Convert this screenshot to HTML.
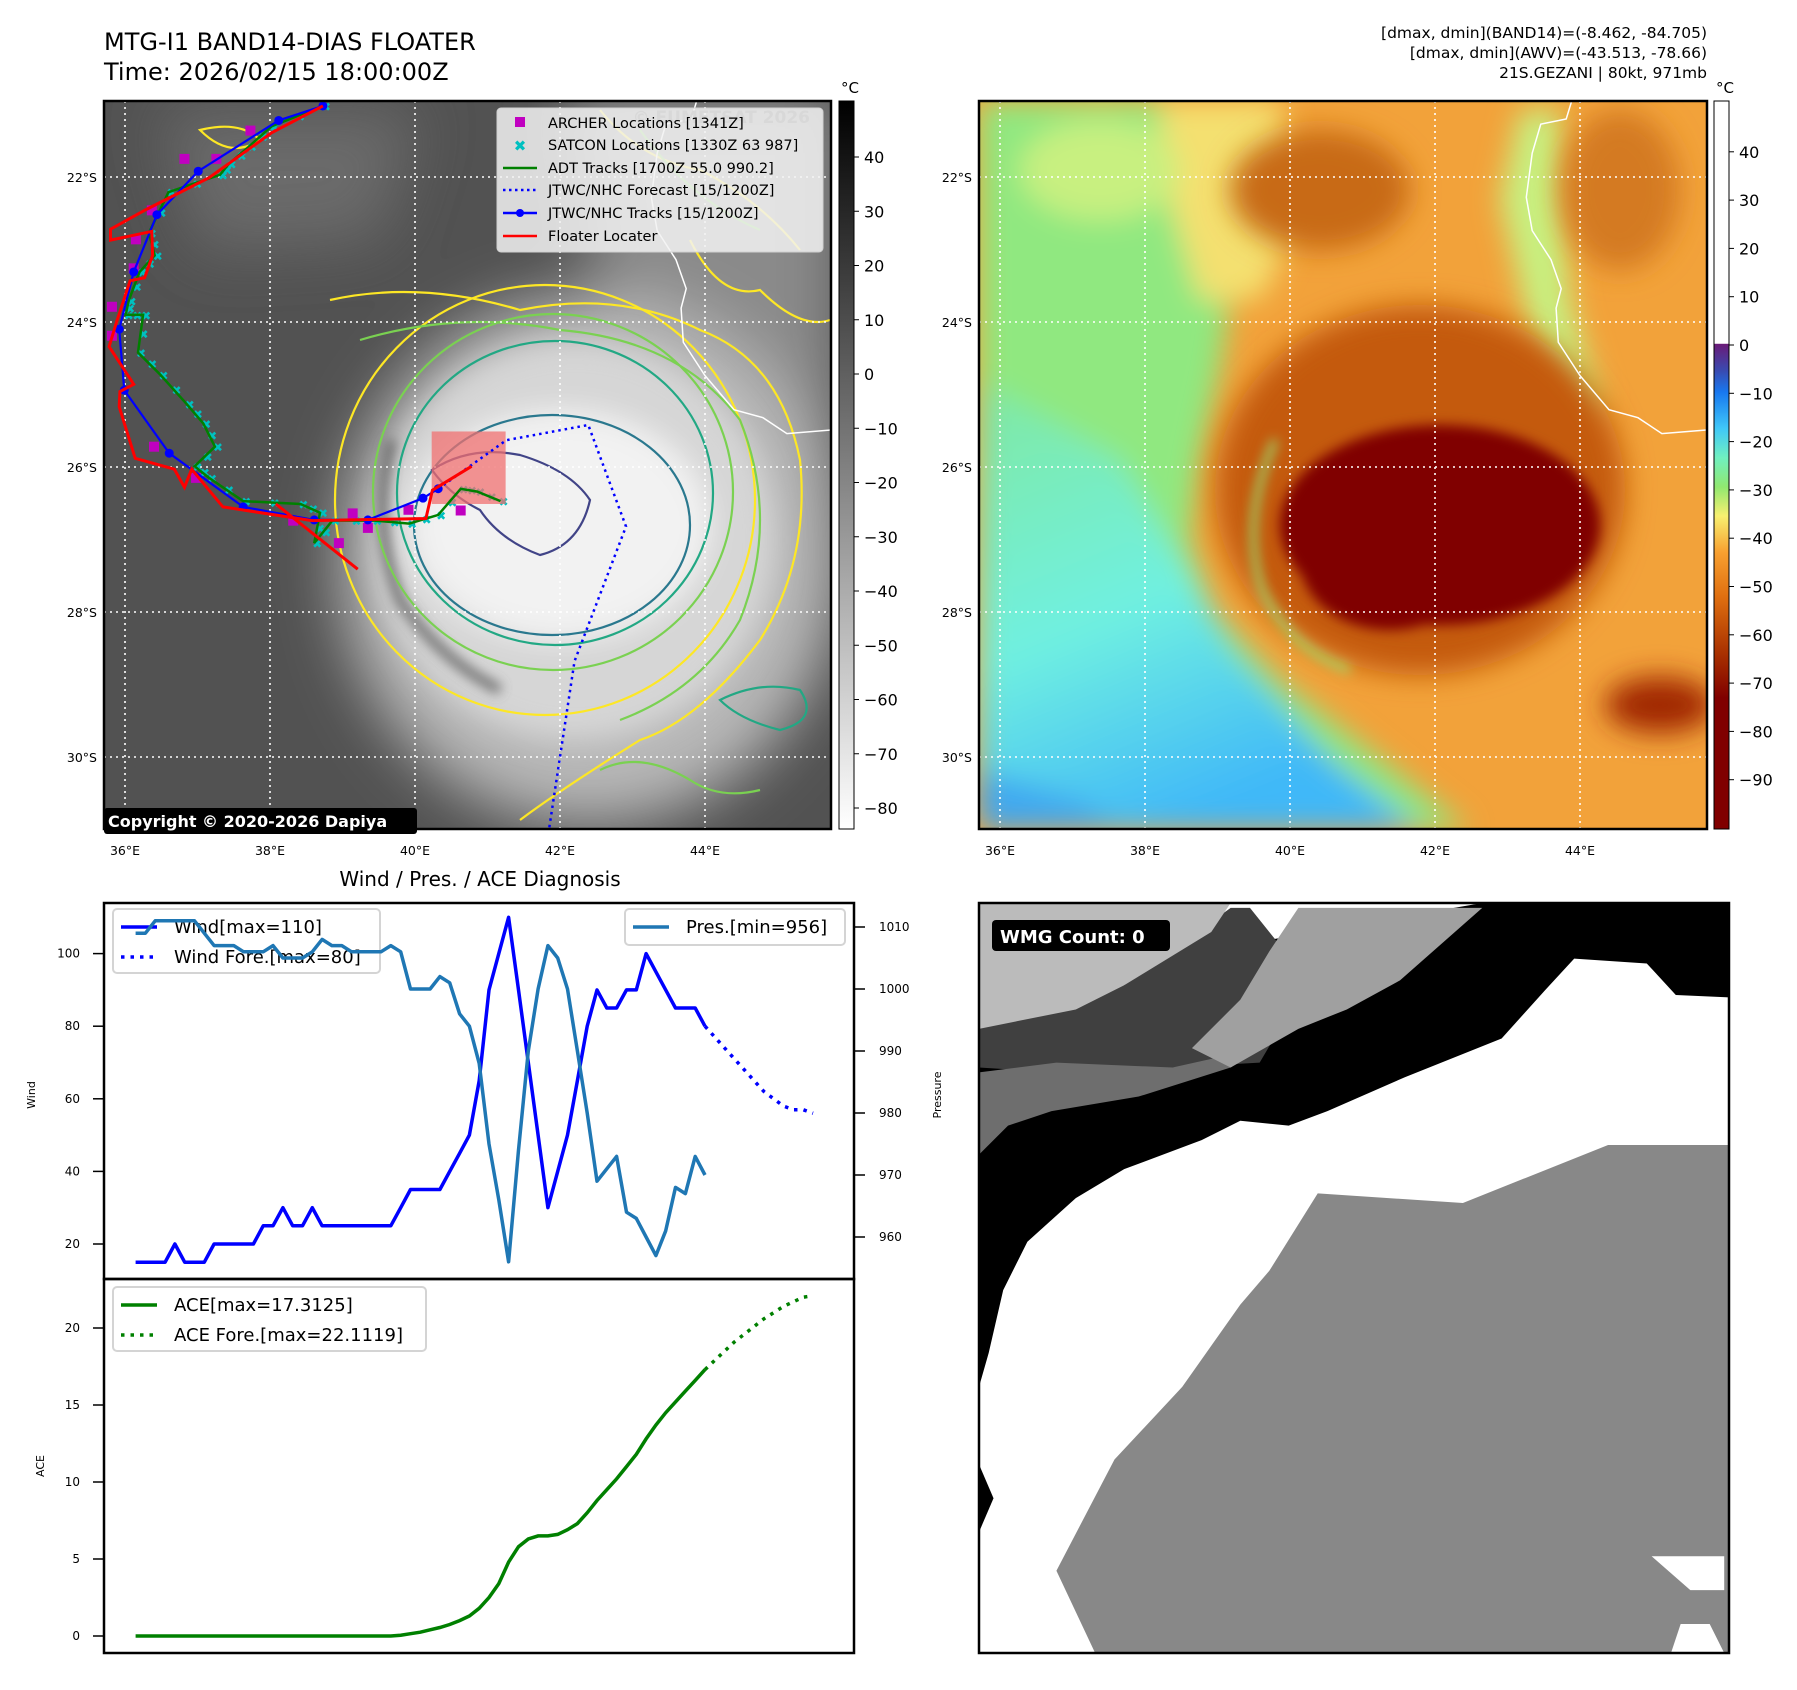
<!DOCTYPE html>
<html><head><meta charset="utf-8">
<style>
html,body{margin:0;padding:0;background:#fff;}
svg{display:block;font-family:"DejaVu Sans","Liberation Sans",sans-serif;}
</style></head>
<body>
<svg id="fig" width="1797" height="1690" viewBox="0 0 1797 1690" xmlns="http://www.w3.org/2000/svg">
<defs>
 <filter id="b6" x="-30%" y="-30%" width="160%" height="160%"><feGaussianBlur stdDeviation="6"/></filter>
 <filter id="b14" x="-30%" y="-30%" width="160%" height="160%"><feGaussianBlur stdDeviation="14"/></filter>
 <filter id="b30" x="-50%" y="-50%" width="200%" height="200%"><feGaussianBlur stdDeviation="30"/></filter>
 <clipPath id="clipL"><rect x="104" y="101" width="727" height="728"/></clipPath>
 <clipPath id="clipR"><rect x="979" y="101" width="728" height="728"/></clipPath>
 <clipPath id="clipB"><rect x="979" y="903" width="750" height="750"/></clipPath>
 <linearGradient id="cbGray" x1="0" y1="0" x2="0" y2="1"><stop offset="0" stop-color="#000"/><stop offset="1" stop-color="#fff"/></linearGradient>
 <linearGradient id="cbJet" x1="0" y1="0" x2="0" y2="1">
  <stop offset="0" stop-color="#fff"/><stop offset="0.333" stop-color="#fff"/>
  <stop offset="0.334" stop-color="#6a1b78"/><stop offset="0.37" stop-color="#3a4ab0"/>
  <stop offset="0.40" stop-color="#1878f0"/><stop offset="0.45" stop-color="#40c8f8"/>
  <stop offset="0.49" stop-color="#70f0c0"/><stop offset="0.53" stop-color="#90e870"/>
  <stop offset="0.57" stop-color="#f8f070"/><stop offset="0.62" stop-color="#f8a030"/>
  <stop offset="0.68" stop-color="#e07010"/><stop offset="0.76" stop-color="#a83000"/>
  <stop offset="0.82" stop-color="#800000"/><stop offset="1" stop-color="#800000"/>
 </linearGradient>
 <linearGradient id="cyanG" x1="0" y1="0" x2="0.4" y2="1"><stop offset="0" stop-color="#80e8a0"/><stop offset="0.55" stop-color="#70f0e0"/><stop offset="1" stop-color="#40b8f8"/></linearGradient>
</defs>

<text x="104" y="50" font-size="24">MTG-I1 BAND14-DIAS FLOATER</text>
<text x="104" y="80" font-size="24">Time: 2026/02/15 18:00:00Z</text>
<g font-size="15.5" text-anchor="end">
 <text x="1707" y="38">[dmax, dmin](BAND14)=(-8.462, -84.705)</text>
 <text x="1707" y="58">[dmax, dmin](AWV)=(-43.513, -78.66)</text>
 <text x="1707" y="78">21S.GEZANI | 80kt, 971mb</text>
</g>

<g id="leftMap" clip-path="url(#clipL)">
 <rect x="104" y="101" width="727" height="728" fill="#525252"/>
 <g filter="url(#b30)">
  <path d="M560,90 L840,90 L840,560 L700,500 L600,300 Z" fill="#8a8a8a"/>
  <path d="M160,110 L420,110 L380,240 L200,250 Z" fill="#6a6a6a"/>
  <ellipse cx="590" cy="560" rx="250" ry="265" fill="#b8b8b8"/>
 </g>
 <g filter="url(#b14)">
  <ellipse cx="575" cy="540" rx="200" ry="200" fill="#d6d6d6"/>
  <ellipse cx="560" cy="525" rx="150" ry="115" fill="#f2f2f2"/>
 </g>
 <path d="M392,440 Q370,520 400,600 Q440,660 500,690" fill="none" stroke="#555" stroke-width="10" filter="url(#b6)" opacity="0.8"/>
 <g fill="none" stroke-width="2.2">
  <ellipse cx="545" cy="500" rx="210" ry="215" stroke="#fde725"/>
  <ellipse cx="553" cy="492" rx="180" ry="178" stroke="#7ad151"/>
  <ellipse cx="555" cy="493" rx="158" ry="152" stroke="#22a884"/>
  <ellipse cx="552" cy="525" rx="138" ry="110" stroke="#2a788e"/>
  <path d="M432,470 Q470,445 520,455 Q570,470 590,500 Q580,545 540,555 Q500,540 480,510 Q450,495 432,470 Z" stroke="#414487"/>
  <path d="M330,300 Q420,280 520,310 Q620,290 700,330 Q780,360 800,460 Q810,560 760,640 Q700,720 640,740 Q560,790 520,820" stroke="#fde725"/>
  <path d="M360,340 Q460,310 560,330 Q680,340 740,420 Q780,520 740,620 Q700,690 620,720" stroke="#7ad151"/>
  <path d="M690,240 Q720,300 760,290 Q800,330 830,320" stroke="#fde725"/>
  <path d="M600,110 Q640,160 700,170 Q760,200 800,250" stroke="#fde725"/>
  <path d="M640,130 Q690,200 760,230" stroke="#7ad151"/>
  <path d="M200,130 Q240,120 260,140 Q230,160 200,130 Z" stroke="#fde725"/>
  <path d="M720,700 Q760,680 800,690 Q820,720 780,730 Q740,720 720,700 Z" stroke="#22a884"/>
  <path d="M600,770 Q640,750 690,780 Q720,800 760,790" stroke="#7ad151"/>
 </g>
 <g id="gridL"></g>
 <path id="coastL" fill="none" stroke="#fff" stroke-width="1.5"/>
 <g id="tracksL"></g>
</g>
<rect x="104" y="101" width="727" height="728" fill="none" stroke="#000" stroke-width="2.5"/>

<g>
 <rect x="497" y="108" width="326" height="144" rx="4" fill="#f2f2f2" fill-opacity="0.85" stroke="#d0d0d0"/>
 <text x="810" y="123" text-anchor="end" font-size="17" font-weight="bold" fill="#d8d8d8">© EUMETSAT 2026</text>
 <rect x="515" y="117" width="10" height="10" fill="#c000c0"/>
 <text x="520" y="151" text-anchor="middle" font-size="15" font-weight="bold" fill="#00c0c0">✖</text>
 <line x1="503" y1="168" x2="537" y2="168" stroke="#008000" stroke-width="2.5"/>
 <line x1="503" y1="190" x2="537" y2="190" stroke="#0000ff" stroke-width="2.5" stroke-dasharray="2.5,3.5"/>
 <line x1="503" y1="213" x2="537" y2="213" stroke="#0000ff" stroke-width="2.5"/><circle cx="520" cy="213" r="4" fill="#0000ff"/>
 <line x1="503" y1="236" x2="537" y2="236" stroke="#ff0000" stroke-width="2.5"/>
 <g font-size="14.5" fill="#000">
  <text x="548" y="128">ARCHER Locations [1341Z]</text>
  <text x="548" y="150">SATCON Locations [1330Z 63 987]</text>
  <text x="548" y="173">ADT Tracks [1700Z 55.0 990.2]</text>
  <text x="548" y="195">JTWC/NHC Forecast [15/1200Z]</text>
  <text x="548" y="218">JTWC/NHC Tracks [15/1200Z]</text>
  <text x="548" y="241">Floater Locater</text>
 </g>
</g>
<g>
 <rect x="104" y="808" width="313" height="26" rx="3" fill="#000"/>
 <text x="108" y="827" font-size="16" font-weight="bold" fill="#fff">Copyright © 2020-2026 Dapiya</text>
</g>

<g id="cbL">
 <rect x="839" y="101" width="15" height="728" fill="url(#cbGray)" stroke="#000" stroke-width="1"/>
 <text x="850" y="93" font-size="15" text-anchor="middle">°C</text>
</g>

<g id="rightMap" clip-path="url(#clipR)">
 <rect x="979" y="101" width="728" height="728" fill="#f2a23a"/>
 <g filter="url(#b14)">
  <path d="M979,101 L1160,101 L1185,200 L1230,300 L1220,370 L1200,460 L1190,540 L1215,610 L1280,680 L1370,750 L1470,830 L979,830 Z" fill="#90e880"/>
  <path d="M1160,101 L1280,101 L1300,220 L1260,300 L1200,300 L1170,200 Z" fill="#f4e070"/>
  <path d="M1520,110 L1560,110 L1570,300 L1600,400 L1580,430 L1530,330 L1500,200 Z" fill="#c8f080"/>
  <path d="M979,380 L1120,460 L1180,560 L1230,650 L1330,760 L1420,830 L979,830 Z" fill="url(#cyanG)"/>
  <path d="M979,770 L1080,800 L1120,830 L979,830 Z" fill="#40a8f0"/>
  <ellipse cx="1100" cy="170" rx="80" ry="50" fill="#c8f080"/>
 </g>
 <g filter="url(#b14)">
  <ellipse cx="1320" cy="190" rx="90" ry="60" fill="#c86a18"/>
  <ellipse cx="1620" cy="190" rx="60" ry="80" fill="#d47a20"/>
  <ellipse cx="1420" cy="490" rx="205" ry="185" fill="#c45a10"/>
  <ellipse cx="1660" cy="705" rx="55" ry="28" fill="#a02800"/>
 </g>
 <path d="M1275,440 Q1240,520 1262,590 Q1290,650 1350,670" fill="none" stroke="#98e878" stroke-width="6" filter="url(#b6)"/>
 <g filter="url(#b6)">
  <ellipse cx="1440" cy="525" rx="160" ry="100" fill="#800000"/>
  <ellipse cx="1390" cy="560" rx="90" ry="70" fill="#800000"/>
 </g>
 <g id="gridR"></g>
 <path id="coastR" fill="none" stroke="#fff" stroke-width="1.5"/>
</g>
<rect x="979" y="101" width="728" height="728" fill="none" stroke="#000" stroke-width="2.5"/>
<g id="cbR">
 <rect x="1714" y="101" width="15" height="728" fill="url(#cbJet)" stroke="#000" stroke-width="1"/>
 <text x="1725" y="93" font-size="15" text-anchor="middle">°C</text>
</g>
<g id="axisLabelsMaps" font-size="12.5"></g>

<text x="480" y="886" font-size="20" text-anchor="middle">Wind / Pres. / ACE Diagnosis</text>
<g id="chart"></g>

<g clip-path="url(#clipB)">
 <g transform="translate(979,903) scale(0.4839)">
  <rect x="0" y="0" width="1550" height="1550" fill="#fff"/>
  <path d="M240,1550 L160,1380 L280,1150 L420,1000 L540,830 L600,760 L700,600 L1000,620 L1300,500 L1550,500 L1550,1550 Z" fill="#888"/>
  <path d="M0,180 L1040,0 L1550,0 L1550,195 L1440,190 L1380,125 L1230,115 L1170,180 L1080,280 L880,360 L720,430 L640,460 L540,450 L460,490 L300,550 L200,610 L100,700 L50,800 L20,930 L0,1000 Z" fill="#000"/>
  <path d="M0,260 L300,170 L520,10 L560,10 L680,160 L580,330 L400,340 L160,350 L0,340 Z" fill="#404040"/>
  <path d="M0,350 L160,330 L400,340 L580,300 L520,340 L330,400 L150,430 L60,460 L0,520 Z" fill="#6e6e6e"/>
  <path d="M660,10 L1040,10 L870,160 L760,220 L660,260 L520,340 L440,300 L540,200 L600,100 Z" fill="#a0a0a0"/>
  <path d="M0,0 L520,0 L480,60 L300,170 L200,220 L0,260 Z" fill="#bbbbbb"/>
  <path d="M1390,1350 L1540,1350 L1540,1420 L1470,1420 Z" fill="#fff"/>
  <path d="M1450,1490 L1510,1490 L1540,1550 L1430,1550 Z" fill="#fff"/>
  <path d="M0,1160 L30,1230 L0,1300 Z" fill="#000"/>
 </g>
 <rect x="992" y="920" width="178" height="31" rx="4" fill="#000"/>
 <text x="1000" y="943" font-size="18" font-weight="bold" fill="#fff">WMG Count: 0</text>
</g>
<rect x="979" y="903" width="750" height="750" fill="none" stroke="#000" stroke-width="2.5"/>
</svg>

<script>
// ---------- chart data ----------
const windVals = [15,15,15,15,20,15,15,15,20,20,20,20,20,25,25,30,25,25,30,25,25,25,25,25,25,25,25,30,35,35,35,35,40,45,50,65,90,100,110,90,70,50,30,40,50,65,80,90,85,85,90,90,100,95,90,85,85,85,80];
const windFore = [80,77,74,71,68,65,62,60,58,57,57,56];
const presVals = [1009,1009,1011,1011,1011,1011,1011,1009,1007,1007,1007,1006,1006,1006,1007,1005,1005,1005,1006,1008,1007,1007,1006,1006,1006,1006,1007,1006,1000,1000,1000,1002,1001,996,994,988,975,966,956,974,990,1000,1007,1005,1000,990,980,969,971,973,964,963,960,957,961,968,967,973,970];
const aceVals = [0,0,0,0,0,0,0,0,0,0,0,0,0,0,0,0,0,0,0,0,0,0,0,0,0,0,0,0.05,0.15,0.25,0.4,0.55,0.75,1.0,1.3,1.8,2.5,3.4,4.8,5.8,6.3,6.5,6.5,6.6,6.9,7.3,8.0,8.8,9.5,10.2,11.0,11.8,12.8,13.7,14.5,15.2,15.9,16.6,17.3];
const aceFore = [17.3,17.9,18.5,19.1,19.6,20.1,20.6,21.0,21.4,21.7,22.0,22.1];
const windTicks = [20,40,60,80,100];
const presTicks = [960,970,980,990,1000,1010];
const aceTicks = [0,5,10,15,20];

// ---------- map data (lon °E, lat °S) ----------
const latTicks = [22,24,26,28,30];
const lonTicks = [36,38,40,42,44];
const jtwcLon = [38.73,38.12,37.01,36.44,36.12,35.92,35.99,36.61,37.63,38.61,39.35,40.11,40.32];
const jtwcLat = [21.02,21.22,21.92,22.52,23.31,24.10,24.94,25.81,26.55,26.73,26.73,26.43,26.30];
const foreLon = [40.32,41.26,42.39,42.91,42.20,41.85];
const foreLat = [26.30,25.63,25.42,26.82,28.68,30.99];
const redLon = [38.73,38.02,37.16,36.29,35.80,35.80,36.37,36.38,36.27,36.07,35.89,35.78,36.12,35.93,35.92,36.14,36.68,36.82,36.92,37.35,38.58,40.15,40.24,40.78];
const redLat = [21.02,21.39,22.01,22.45,22.72,22.87,22.75,23.08,23.39,23.43,23.98,24.34,24.86,24.96,25.17,25.88,26.03,26.28,26.03,26.55,26.74,26.71,26.32,25.99];
const redSpurLon = [38.08,39.21];
const redSpurLat = [26.51,27.41];
const adtLon = [38.73,38.02,37.71,37.43,37.31,36.60,36.33,36.41,36.20,36.05,36.01,36.25,36.18,36.49,36.85,37.08,37.24,36.96,37.16,37.63,38.42,38.69,38.61,38.86,39.44,39.92,40.32,40.63,40.86,41.18];
const adtLat = [21.02,21.30,21.58,21.82,21.97,22.21,22.77,23.08,23.31,23.71,23.90,23.90,24.42,24.73,25.13,25.40,25.72,25.99,26.15,26.47,26.51,26.63,27.05,26.74,26.74,26.78,26.66,26.30,26.34,26.47];
const archerLon = [37.73,36.82,37.26,36.37,36.15,36.12,35.82,35.82,36.40,36.98,38.32,39.14,39.35,38.95,39.91,40.63];
const archerLat = [21.36,21.75,21.75,22.46,22.86,23.26,23.79,24.19,25.72,26.15,26.74,26.64,26.84,27.05,26.59,26.60];
const coastLon = [43.88,43.81,43.46,43.34,43.26,43.34,43.60,43.74,43.67,43.70,44.00,44.40,44.80,45.13,45.74];
const coastLat = [20.97,21.20,21.27,21.67,22.28,22.74,23.14,23.54,23.81,24.28,24.74,25.21,25.32,25.54,25.49];
const rectLon = [40.23,41.25];
const rectLat = [25.51,26.51];
const cbLTicks = [40,30,20,10,0,-10,-20,-30,-40,-50,-60,-70,-80];
const cbRTicks = [40,30,20,10,0,-10,-20,-30,-40,-50,-60,-70,-80,-90];

const NS = 'http://www.w3.org/2000/svg';
function mk(tag, attrs, parent){const e=document.createElementNS(NS,tag);for(const k in attrs)e.setAttribute(k,attrs[k]);if(parent)parent.appendChild(e);return e;}

const lx = lon => 125 + (lon-36)*72.5;
const ly = lat => 177 + (lat-22)*72.5;
function pathFrom(lons, lats, dx){return lons.map((v,i)=>(i?'L':'M')+(lx(v)+dx).toFixed(1)+','+ly(lats[i]).toFixed(1)).join(' ');}
function neg(v){return v < 0 ? '\u2212'+(-v) : String(v);}

function drawGrid(id, dx, x0, x1){
  const g=document.getElementById(id);
  lonTicks.forEach(l=>{const ln=mk('line',{x1:lx(l)+dx,x2:lx(l)+dx,y1:101,y2:829,stroke:'#fff','stroke-width':1.6,'stroke-dasharray':'2,4'},g);
    
    });
  latTicks.forEach(l=>{const ln=mk('line',{x1:x0,x2:x1,y1:ly(l),y2:ly(l),stroke:'#fff','stroke-width':1.6,'stroke-dasharray':'2,4'},g);
    
    });
}
drawGrid('gridL',0,104,831);
drawGrid('gridR',875,979,1707);
document.getElementById('coastL').setAttribute('d',pathFrom(coastLon,coastLat,0));
document.getElementById('coastR').setAttribute('d',pathFrom(coastLon,coastLat,875));

const ml=document.getElementById('axisLabelsMaps');
[0,875].forEach(dx=>{
  latTicks.forEach(l=>{const t=mk('text',{x:97+dx,y:ly(l)+5,'text-anchor':'end'},ml);t.textContent=l+'°S';
    
    });
  lonTicks.forEach(l=>{const t=mk('text',{x:lx(l)+dx,y:855,'text-anchor':'middle'},ml);t.textContent=l+'°E';
    
    });
});

const cbl=document.getElementById('cbL');
const yL = v => 157 + (40-v)*5.425;
cbLTicks.forEach(v=>{mk('line',{x1:854,x2:859,y1:yL(v),y2:yL(v),stroke:'#000'},cbl);
  const t=mk('text',{x:864,y:yL(v)+6,'font-size':16},cbl);t.textContent=neg(v);
  
  });
const cbr=document.getElementById('cbR');
const yR = v => 345 - v*4.83;
cbRTicks.forEach(v=>{mk('line',{x1:1729,x2:1734,y1:yR(v),y2:yR(v),stroke:'#000'},cbr);
  const t=mk('text',{x:1739,y:yR(v)+6,'font-size':16},cbr);t.textContent=neg(v);
  
  });

const tg=document.getElementById('tracksL');
adtLon.forEach((v,i)=>{
  const pts=[[v,adtLat[i]]];
  if(i+1 < adtLon.length) pts.push([(v+adtLon[i+1])/2,(adtLat[i]+adtLat[i+1])/2]);
  pts.forEach(q=>{const t=mk('text',{x:lx(q[0])+3,y:ly(q[1])+5,'text-anchor':'middle','font-size':12,'font-weight':'bold',fill:'#00c0c0'},tg);t.textContent='✖';
    
    });
});
archerLon.forEach((v,i)=>{const r=mk('rect',{x:lx(v)-5,y:ly(archerLat[i])-5,width:10,height:10,fill:'#c000c0'},tg);
  
  });
const rectE=mk('rect',{x:lx(rectLon[0]),y:ly(rectLat[0]),width:lx(rectLon[1])-lx(rectLon[0]),height:ly(rectLat[1])-ly(rectLat[0]),fill:'#f07070','fill-opacity':0.75},tg);


let p=mk('path',{d:pathFrom(adtLon,adtLat,0),fill:'none',stroke:'#008000','stroke-width':2.5},tg);


p=mk('path',{d:pathFrom(foreLon,foreLat,0),fill:'none',stroke:'#0000ff','stroke-width':2.5,'stroke-dasharray':'2.5,4'},tg);


p=mk('path',{d:pathFrom(jtwcLon,jtwcLat,0),fill:'none',stroke:'#0000ff','stroke-width':2.2},tg);


jtwcLon.forEach((v,i)=>{const c=mk('circle',{cx:lx(v),cy:ly(jtwcLat[i]),r:4.5,fill:'#0000ff'},tg);
  
  });
p=mk('path',{d:pathFrom(redLon,redLat,0),fill:'none',stroke:'#ff0000','stroke-width':3},tg);


p=mk('path',{d:pathFrom(redSpurLon,redSpurLat,0),fill:'none',stroke:'#ff0000','stroke-width':3},tg);



// ---------- chart ----------
const ch=document.getElementById('chart');
const xi = i => 135.6 + i*9.817;
const yw = v => 1244 - (v-20)*3.63;
const yp = v => 927 + (1010-v)*6.2;
const ya = v => 1636 - v*15.4;
function linePath(vals, yf, off){return vals.map((v,i)=>(i?'L':'M')+xi(i+off).toFixed(1)+','+yf(v).toFixed(1)).join(' ');}

function legend(x,y,w,h,items,name){
  const g=mk('g',{},ch);
  
  
  mk('rect',{x:x,y:y,width:w,height:h,rx:4,fill:'#fff','fill-opacity':0.8,stroke:'#d4d4d4','stroke-width':2},g);
  items.forEach((it,k)=>{const cy=y+18+k*30;
    mk('line',{x1:x+8,x2:x+44,y1:cy,y2:cy,stroke:it[1],'stroke-width':3.5,'stroke-dasharray':it[2]?'3.5,6':'none'},g);
    const tx=mk('text',{x:x+61,y:cy+6,'font-size':18},g);tx.textContent=it[0];});
}
legend(113,909,267,64,[['Wind[max=110]','#0000ff',0],['Wind Fore.[max=80]','#0000ff',1]],'wind-legend');

let e=mk('path',{d:linePath(windVals,yw,0),fill:'none',stroke:'#0000ff','stroke-width':3.5,'stroke-linejoin':'round'},ch);


e=mk('path',{d:linePath(windFore,yw,58),fill:'none',stroke:'#0000ff','stroke-width':3.5,'stroke-dasharray':'3.5,6'},ch);


e=mk('path',{d:linePath(presVals,yp,0),fill:'none',stroke:'#1f77b4','stroke-width':3.5,'stroke-linejoin':'round'},ch);


e=mk('path',{d:linePath(aceVals,ya,0),fill:'none',stroke:'#008000','stroke-width':3.5},ch);


e=mk('path',{d:linePath(aceFore,ya,58),fill:'none',stroke:'#008000','stroke-width':3.5,'stroke-dasharray':'3.5,6'},ch);



mk('rect',{x:104,y:903,width:750,height:376,fill:'none',stroke:'#000','stroke-width':2.5},ch);
mk('rect',{x:104,y:1279,width:750,height:374,fill:'none',stroke:'#000','stroke-width':2.5},ch);

windTicks.forEach(v=>{mk('line',{x1:93,x2:104,y1:yw(v),y2:yw(v),stroke:'#000','stroke-width':1.5},ch);
  const t=mk('text',{x:80,y:yw(v)+4,'text-anchor':'end','font-size':12},ch);t.textContent=v;
  
  });
presTicks.forEach(v=>{mk('line',{x1:854,x2:865,y1:yp(v),y2:yp(v),stroke:'#000','stroke-width':1.5},ch);
  const t=mk('text',{x:879,y:yp(v)+4,'font-size':12},ch);t.textContent=v;
  
  });
aceTicks.forEach(v=>{mk('line',{x1:93,x2:104,y1:ya(v),y2:ya(v),stroke:'#000','stroke-width':1.5},ch);
  const t=mk('text',{x:80,y:ya(v)+4,'text-anchor':'end','font-size':12},ch);t.textContent=v;
  
  });

let t=mk('text',{x:0,y:0,'font-size':11,transform:'translate(35,1095) rotate(-90)','text-anchor':'middle'},ch);t.textContent='Wind';


t=mk('text',{x:0,y:0,'font-size':11,transform:'translate(941,1095) rotate(-90)','text-anchor':'middle'},ch);t.textContent='Pressure';


t=mk('text',{x:0,y:0,'font-size':11,transform:'translate(44,1466) rotate(-90)','text-anchor':'middle'},ch);t.textContent='ACE';



legend(625,909,220,36,[['Pres.[min=956]','#1f77b4',0]],'pressure-legend');
legend(113,1287,313,64,[['ACE[max=17.3125]','#008000',0],['ACE Fore.[max=22.1119]','#008000',1]],'ace-legend');
</script>
</body></html>
